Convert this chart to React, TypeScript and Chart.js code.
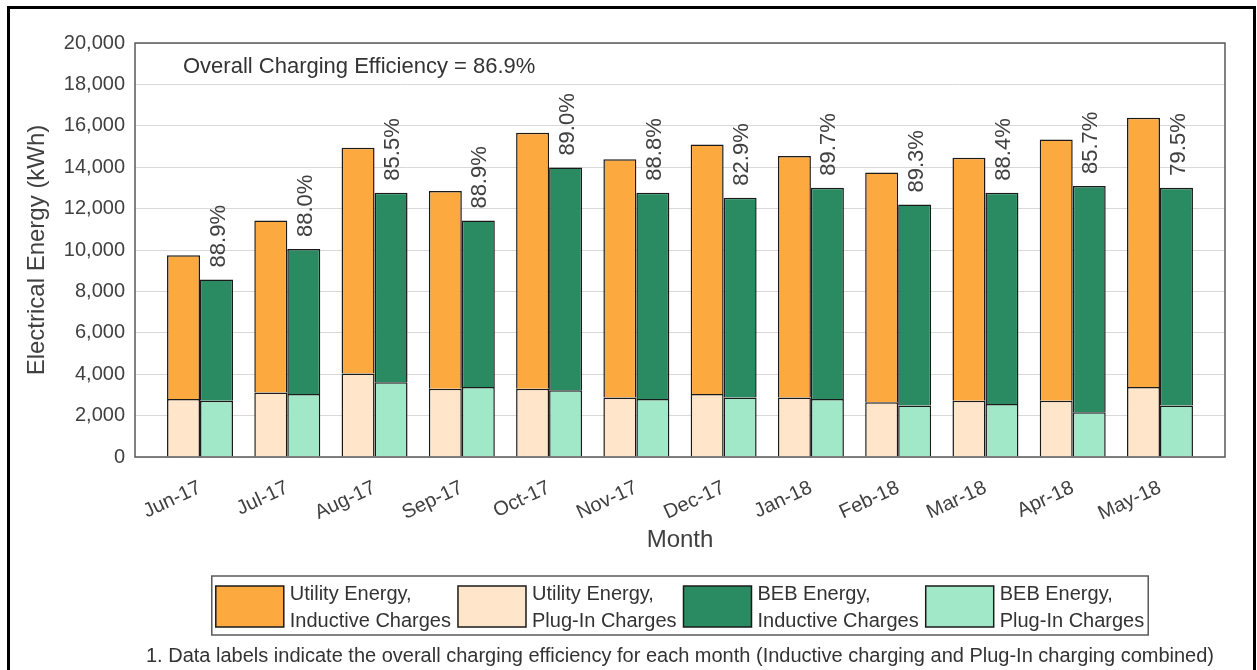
import React, { useEffect, useRef } from 'react';
import { Chart, registerables } from 'chart.js';

Chart.register(...registerables);

// ---------- data ----------
const months = ['Jun-17', 'Jul-17', 'Aug-17', 'Sep-17', 'Oct-17', 'Nov-17', 'Dec-17', 'Jan-18', 'Feb-18', 'Mar-18', 'Apr-18', 'May-18'];
const utilityPlugIn = [2800, 3120, 4030, 3300, 3300, 2880, 3040, 2880, 2640, 2720, 2720, 3380];
const utilityInductive = [6950, 8300, 10910, 9550, 12370, 11500, 12060, 11660, 11100, 11740, 12620, 13010];
const bebPlugIn = [2720, 3040, 3610, 3380, 3220, 2800, 2880, 2800, 2490, 2560, 2160, 2490];
const bebInductive = [5860, 7010, 9160, 8040, 10760, 9970, 9650, 10210, 9710, 10210, 10930, 10520];
const efficiencyLabels = ['88.9%', '88.0%', '85.5%', '88.9%', '89.0%', '88.8%', '82.9%', '89.7%', '89.3%', '88.4%', '85.7%', '79.5%'];
const yMin = 0;
const yMax = 20000;
const yStep = 2000;
const overallNote = 'Overall Charging Efficiency = 86.9%';
const yTitle = 'Electrical Energy (kWh)';
const xTitle = 'Month';
const footnote = '1. Data labels indicate the overall charging efficiency for each month (Inductive charging and Plug-In charging combined)';
const legendLines = [
  ['Utility Energy,', 'Inductive Charges'],
  ['Utility Energy,', 'Plug-In Charges'],
  ['BEB Energy,', 'Inductive Charges'],
  ['BEB Energy,', 'Plug-In Charges'],
];

// ---------- styles ----------
const FONT = '"Liberation Sans", Arial, Helvetica, sans-serif';
const TEXT = '#404040';
const C_UTIL_IND = '#FCAA40';
const C_UTIL_PLUG = '#FFE5C9';
const C_BEB_IND = '#2A8B63';
const C_BEB_PLUG = '#A1E8C9';
const legendColors = [C_UTIL_IND, C_UTIL_PLUG, C_BEB_IND, C_BEB_PLUG];
const X_PAD = 0.745;

const extrasPlugin = {
  id: 'extras',
  afterDatasetsDraw(chart: any) {
    const { ctx, chartArea: a } = chart;
    ctx.save();
    ctx.strokeStyle = '#595959';
    ctx.lineWidth = 1.5;
    ctx.strokeRect(a.left, a.top, a.right - a.left, a.bottom - a.top);
    ctx.restore();

    const meta = chart.getDatasetMeta(3);
    ctx.save();
    ctx.fillStyle = TEXT;
    ctx.font = `22px ${FONT}`;
    ctx.textAlign = 'left';
    ctx.textBaseline = 'middle';
    meta.data.forEach((el: any, i: number) => {
      ctx.save();
      ctx.translate(el.x + 2, el.y - 12);
      ctx.rotate(-Math.PI / 2);
      ctx.fillText(efficiencyLabels[i], 0, 0);
      ctx.restore();
    });
    ctx.restore();
  },
  afterDraw(chart: any) {
    const { ctx, chartArea: a } = chart;
    ctx.save();
    // annotation
    ctx.fillStyle = '#333333';
    ctx.font = `22px ${FONT}`;
    ctx.textAlign = 'left';
    ctx.textBaseline = 'alphabetic';
    ctx.fillText(overallNote, a.left + 48, a.top + 29.5);

    // legend
    ctx.font = `20px ${FONT}`;
    const sw = 68, sh = 41, gapText = 6, gapItem = 7, padX = 4;
    const widths = legendLines.map((ls) => Math.max(...ls.map((l) => ctx.measureText(l).width)));
    const total = padX * 2 + widths.reduce((s, w) => s + sw + gapText + w, 0) + gapItem * (widths.length - 1);
    const cx = (a.left + a.right) / 2;
    const boxLeft = cx - total / 2;
    const boxTop = a.bottom + 119;
    const boxH = 59;
    ctx.strokeStyle = '#595959';
    ctx.lineWidth = 1.5;
    ctx.strokeRect(boxLeft, boxTop, total, boxH);
    let x = boxLeft + padX;
    legendLines.forEach((ls, i) => {
      ctx.fillStyle = legendColors[i];
      ctx.fillRect(x, boxTop + 10, sw, sh);
      ctx.strokeStyle = '#1a1a1a';
      ctx.lineWidth = 1.5;
      ctx.strokeRect(x, boxTop + 10, sw, sh);
      ctx.fillStyle = '#333333';
      ctx.textAlign = 'left';
      ctx.textBaseline = 'alphabetic';
      ctx.fillText(ls[0], x + sw + gapText, boxTop + 24);
      ctx.fillText(ls[1], x + sw + gapText, boxTop + 51);
      x += sw + gapText + widths[i] + gapItem;
    });

    // footnote
    ctx.fillStyle = '#333333';
    ctx.textAlign = 'center';
    ctx.fillText(footnote, cx, a.bottom + 205);

    // outer frame (top, left, right)
    ctx.strokeStyle = '#000000';
    ctx.lineWidth = 3;
    ctx.beginPath();
    ctx.moveTo(8.5, chart.height);
    ctx.lineTo(8.5, 7.5);
    ctx.lineTo(chart.width - 2.5, 7.5);
    ctx.lineTo(chart.width - 2.5, chart.height);
    ctx.stroke();
    ctx.restore();
  },
};

function toPoints(values: number[]) {
  return values.map((v, i) => ({ x: i, y: v }));
}

export default function App() {
  const ref = useRef<HTMLCanvasElement | null>(null);

  useEffect(() => {
    if (!ref.current) return;
    Chart.defaults.font.family = FONT;
    const barCommon = {
      borderColor: '#1a1a1a',
      borderWidth: 1.5,
      borderSkipped: 'start',
      categoryPercentage: 0.756,
      barPercentage: 1.0,
    };
    const chart = new Chart(ref.current, {
      type: 'bar',
      data: {
        datasets: [
          { label: legendLines[1].join(' '), data: toPoints(utilityPlugIn), backgroundColor: C_UTIL_PLUG, stack: 'utility', ...barCommon },
          { label: legendLines[0].join(' '), data: toPoints(utilityInductive), backgroundColor: C_UTIL_IND, stack: 'utility', ...barCommon },
          { label: legendLines[3].join(' '), data: toPoints(bebPlugIn), backgroundColor: C_BEB_PLUG, stack: 'beb', ...barCommon },
          { label: legendLines[2].join(' '), data: toPoints(bebInductive), backgroundColor: C_BEB_IND, stack: 'beb', ...barCommon },
        ] as any,
      },
      options: {
        responsive: false,
        animation: false,
        events: [],
        layout: { padding: { left: 0, right: 32, top: 43, bottom: 113 } },
        plugins: {
          legend: { display: false },
          tooltip: { enabled: false },
          title: { display: false },
        },
        scales: {
          x: {
            type: 'linear',
            offset: false,
            min: -X_PAD,
            max: months.length - 1 + X_PAD,
            grid: { display: false, offset: false },
            border: { display: false },
            afterFit: (s: any) => { s.height = 100; },
            ticks: {
              stepSize: 1,
              includeBounds: false,
              autoSkip: false,
              minRotation: 25,
              maxRotation: 25,
              padding: 11,
              color: TEXT,
              font: { size: 20, family: FONT },
              callback: (v: any) => (Number.isInteger(v) && months[v] !== undefined ? months[v] : ''),
            },
            title: {
              display: true,
              text: xTitle,
              color: TEXT,
              font: { size: 24, family: FONT },
              padding: { top: 0, bottom: 2 },
            },
          },
          y: {
            stacked: true,
            min: yMin,
            max: yMax,
            afterFit: (s: any) => { s.width = 135; },
            grid: { color: '#d9d9d9', lineWidth: 1, drawTicks: false },
            border: { display: false },
            ticks: {
              stepSize: yStep,
              padding: 10,
              color: TEXT,
              font: { size: 20, family: FONT },
              callback: (v: any) => Number(v).toLocaleString('en-US'),
            },
            title: {
              display: true,
              text: yTitle,
              color: TEXT,
              font: { size: 24, family: FONT },
              padding: { top: 22.6, bottom: 0 },
            },
          },
        },
      } as any,
      plugins: [extrasPlugin],
    });
    return () => chart.destroy();
  }, []);

  return (
    <div style={{ position: 'fixed', left: 0, top: 0, width: 1257, height: 670, background: '#fff' }}>
      <canvas ref={ref} width={1257} height={670} style={{ display: 'block' }} />
    </div>
  );
}
